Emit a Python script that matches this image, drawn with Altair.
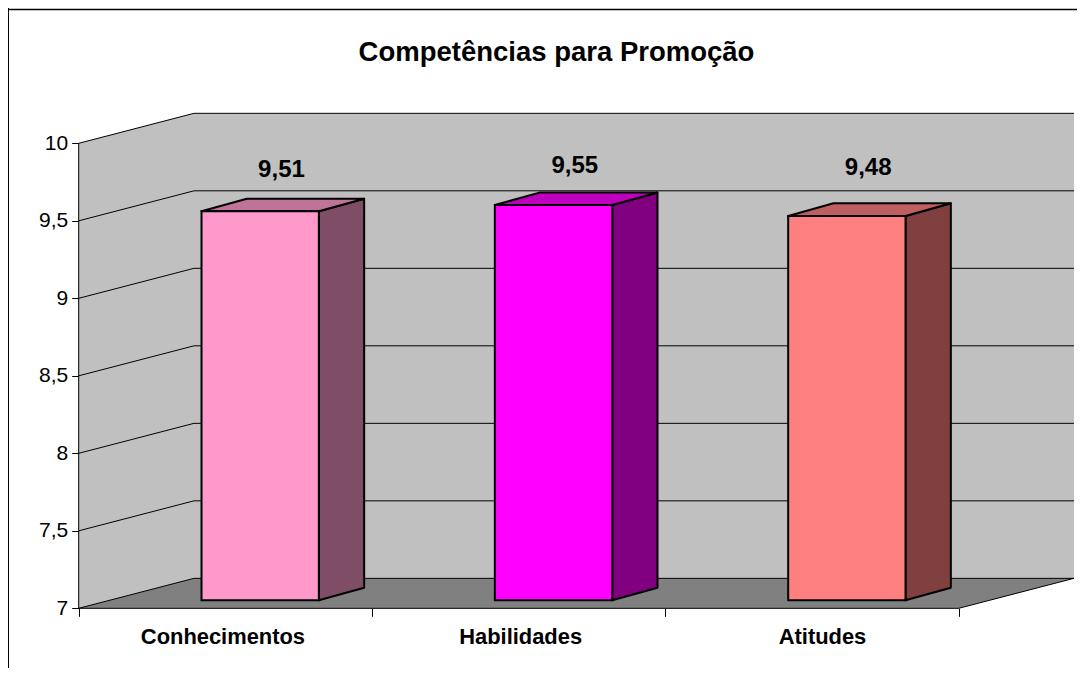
import altair as alt
import pandas as pd

title = "Competências para Promoção"
categories = ["Conhecimentos", "Habilidades", "Atitudes"]
values = [9.51, 9.55, 9.48]
value_labels = ["9,51", "9,55", "9,48"]
y_ticks = [7, 7.5, 8, 8.5, 9, 9.5, 10]
front_colors = ["#FF99CC", "#FF00FF", "#FF8080"]
top_colors = ["#BF7399", "#BF00BF", "#BF6060"]
side_colors = ["#804D66", "#800080", "#804040"]
label_lift = [0.271, 0.256, 0.315]
axis_label_shift = [-0.01, 0.005, 0.034]

W, H = 1069, 660
X_MIN, X_MAX = -0.241, 3.4033
Y_MIN, Y_MAX = 6.615, 10.873
WALL_DX, WALL_DY = 0.393, 0.1935
BAR_SHIFT_X, BAR_SHIFT_Y = 0.1187, 0.0516
BAR_HALF = 0.2
BAR_DX, BAR_DY = 0.1545, 0.0813
FONT = "Liberation Sans"

xs = alt.Scale(domain=[X_MIN, X_MAX], nice=False, zero=False)
ys = alt.Scale(domain=[Y_MIN, Y_MAX], nice=False, zero=False)
Y0, Y1 = y_ticks[0], y_ticks[-1]
N = len(categories)

# walls and floor
wall_rows = []
def add(rows, gid, fill, x, lo, hi):
    rows.append(dict(gid=gid, fill=fill, x=x, lo=lo, hi=hi))

add(wall_rows, "left", "#C0C0C0", 0, Y0, Y1)
add(wall_rows, "left", "#C0C0C0", WALL_DX, Y0 + WALL_DY, Y1 + WALL_DY)
add(wall_rows, "back", "#C0C0C0", WALL_DX, Y0 + WALL_DY, Y1 + WALL_DY)
add(wall_rows, "back", "#C0C0C0", N + WALL_DX, Y0 + WALL_DY, Y1 + WALL_DY)
add(wall_rows, "floor", "#808080", 0, Y0, Y0)
add(wall_rows, "floor", "#808080", WALL_DX, Y0, Y0 + WALL_DY)
add(wall_rows, "floor", "#808080", N, Y0, Y0 + WALL_DY)
add(wall_rows, "floor", "#808080", N + WALL_DX, Y0 + WALL_DY, Y0 + WALL_DY)

# wire lines
line_rows = []
def wire(gid, pts):
    for k, (x, y) in enumerate(pts):
        line_rows.append(dict(gid=gid, k=k, x=x, y=y))

for t in y_ticks:
    wire(f"g{t}", [(0, t), (WALL_DX, t + WALL_DY), (N + WALL_DX, t + WALL_DY)])
wire("leftaxis", [(0, Y0), (0, Y1)])
wire("front", [(0, Y0), (N, Y0)])
wire("edge", [(N, Y0), (N + WALL_DX, Y0 + WALL_DY)])

# bars
front_rows, side_rows, label_rows = [], [], []
for i, v in enumerate(values):
    x0 = i + 0.5 + BAR_SHIFT_X - BAR_HALF
    x1 = i + 0.5 + BAR_SHIFT_X + BAR_HALF
    base = Y0 + BAR_SHIFT_Y
    top = base + (v - Y0)
    front_rows.append(dict(x=x0, x2=x1, lo=base, hi=top, fill=front_colors[i]))
    add(side_rows, f"s{i}", side_colors[i], x1, base, top)
    add(side_rows, f"s{i}", side_colors[i], x1 + BAR_DX, base + BAR_DY, top + BAR_DY)
    add(side_rows, f"t{i}", top_colors[i], x0, top, top)
    add(side_rows, f"t{i}", top_colors[i], x0 + BAR_DX, top, top + BAR_DY)
    add(side_rows, f"t{i}", top_colors[i], x1, top, top + BAR_DY)
    add(side_rows, f"t{i}", top_colors[i], x1 + BAR_DX, top + BAR_DY, top + BAR_DY)
    label_rows.append(dict(x=i + 0.5 + BAR_SHIFT_X + 0.0726, y=v + label_lift[i], text=value_labels[i]))

tick_df = pd.DataFrame({"x": list(range(N + 1))})
catlab_df = pd.DataFrame({"x": [i + 0.5 + axis_label_shift[i] for i in range(N)]})
cat_expr = "".join(f"datum.value<{i + 1}?'{c}':" for i, c in enumerate(categories[:-1])) + f"'{categories[-1]}'"

walls = alt.Chart(pd.DataFrame(wall_rows)).mark_area(interpolate="linear").encode(
    x=alt.X("x:Q", scale=xs, axis=None),
    y=alt.Y("lo:Q", scale=ys, axis=None),
    y2="hi:Q",
    detail="gid:N",
    color=alt.Color("fill:N", scale=None),
)

xticks = alt.Chart(tick_df).mark_point(opacity=0).encode(
    x=alt.X("x:Q", scale=xs, title=None, axis=alt.Axis(
        orient="bottom", values=list(range(N + 1)), offset=-59.7, domain=False, grid=False, labels=False,
        ticks=True, tickSize=8, tickColor="#000000", tickWidth=1)),
    y=alt.Y("v:Q", scale=ys, axis=None),
).transform_calculate(v=str(Y0))

xlabels = alt.Chart(catlab_df).mark_point(opacity=0).encode(
    x=alt.X("x:Q", scale=xs, title=None, axis=alt.Axis(
        orient="bottom", values=catlab_df["x"].tolist(), offset=-59.7, domain=False, grid=False, ticks=False,
        labelExpr=cat_expr, labelFont=FONT, labelFontSize=21.9, labelFontWeight="bold",
        labelColor="#000000", labelPadding=18, labelOverlap=False, labelFlush=False, labelBound=False)),
    y=alt.Y("v:Q", scale=ys, axis=None),
).transform_calculate(v=str(Y0))

yaxis = alt.Chart(pd.DataFrame({"y": y_ticks})).mark_point(opacity=0).encode(
    x=alt.X("v:Q", scale=xs, axis=None),
    y=alt.Y("y:Q", scale=ys, title=None, axis=alt.Axis(
        orient="left", values=y_ticks, offset=-70.7, domain=False, grid=False, tickSize=7, tickColor="#000000",
        tickWidth=1, labelFont=FONT, labelFontSize=21, labelColor="#000000", labelPadding=4,
        labelExpr="replace(toString(datum.value),'.',',')", labelOverlap=False, labelFlush=False,
        labelBound=False)),
).transform_calculate(v="0")

lines = alt.Chart(pd.DataFrame(line_rows)).mark_line(color="#000000", strokeWidth=1).encode(
    x=alt.X("x:Q", scale=xs, axis=None),
    y=alt.Y("y:Q", scale=ys, axis=None),
    detail="gid:N",
    order="k:Q",
)

sides = alt.Chart(pd.DataFrame(side_rows)).mark_area(
    interpolate="linear", stroke="#000000", strokeWidth=2, strokeJoin="round"
).encode(
    x=alt.X("x:Q", scale=xs, axis=None),
    y=alt.Y("lo:Q", scale=ys, axis=None),
    y2="hi:Q",
    detail="gid:N",
    color=alt.Color("fill:N", scale=None),
)

fronts = alt.Chart(pd.DataFrame(front_rows)).mark_rect(stroke="#000000", strokeWidth=2).encode(
    x=alt.X("x:Q", scale=xs, axis=None),
    x2="x2:Q",
    y=alt.Y("lo:Q", scale=ys, axis=None),
    y2="hi:Q",
    color=alt.Color("fill:N", scale=None),
)

labels = alt.Chart(pd.DataFrame(label_rows)).mark_text(
    font=FONT, fontSize=24, fontWeight="bold", color="#000000", baseline="alphabetic", align="center"
).encode(
    x=alt.X("x:Q", scale=xs, axis=None),
    y=alt.Y("y:Q", scale=ys, axis=None),
    text="text:N",
)

frame_left = alt.Chart(pd.DataFrame({"a": [0]})).mark_rule(color="#000000", strokeWidth=2).encode(x=alt.value(0))
frame_top = alt.Chart(pd.DataFrame({"a": [0]})).mark_rule(color="#000000", strokeWidth=1.5).encode(y=alt.value(1.5))

chart = alt.layer(
    walls, xticks, xlabels, yaxis, lines, sides, fronts, labels, frame_left, frame_top
).resolve_axis(x="independent", y="independent").properties(
    width=W, height=H, padding=0,
    autosize=alt.AutoSizeParams(type="none"),
    background="#FFFFFF",
    title=alt.TitleParams(title, anchor="middle", offset=-81, dx=14, font=FONT, fontSize=27.5,
                          fontWeight="bold", color="#000000", baseline="alphabetic"),
).configure_view(stroke=None)

chart.save("out.html", embed_options={"renderer": "svg", "actions": False})
